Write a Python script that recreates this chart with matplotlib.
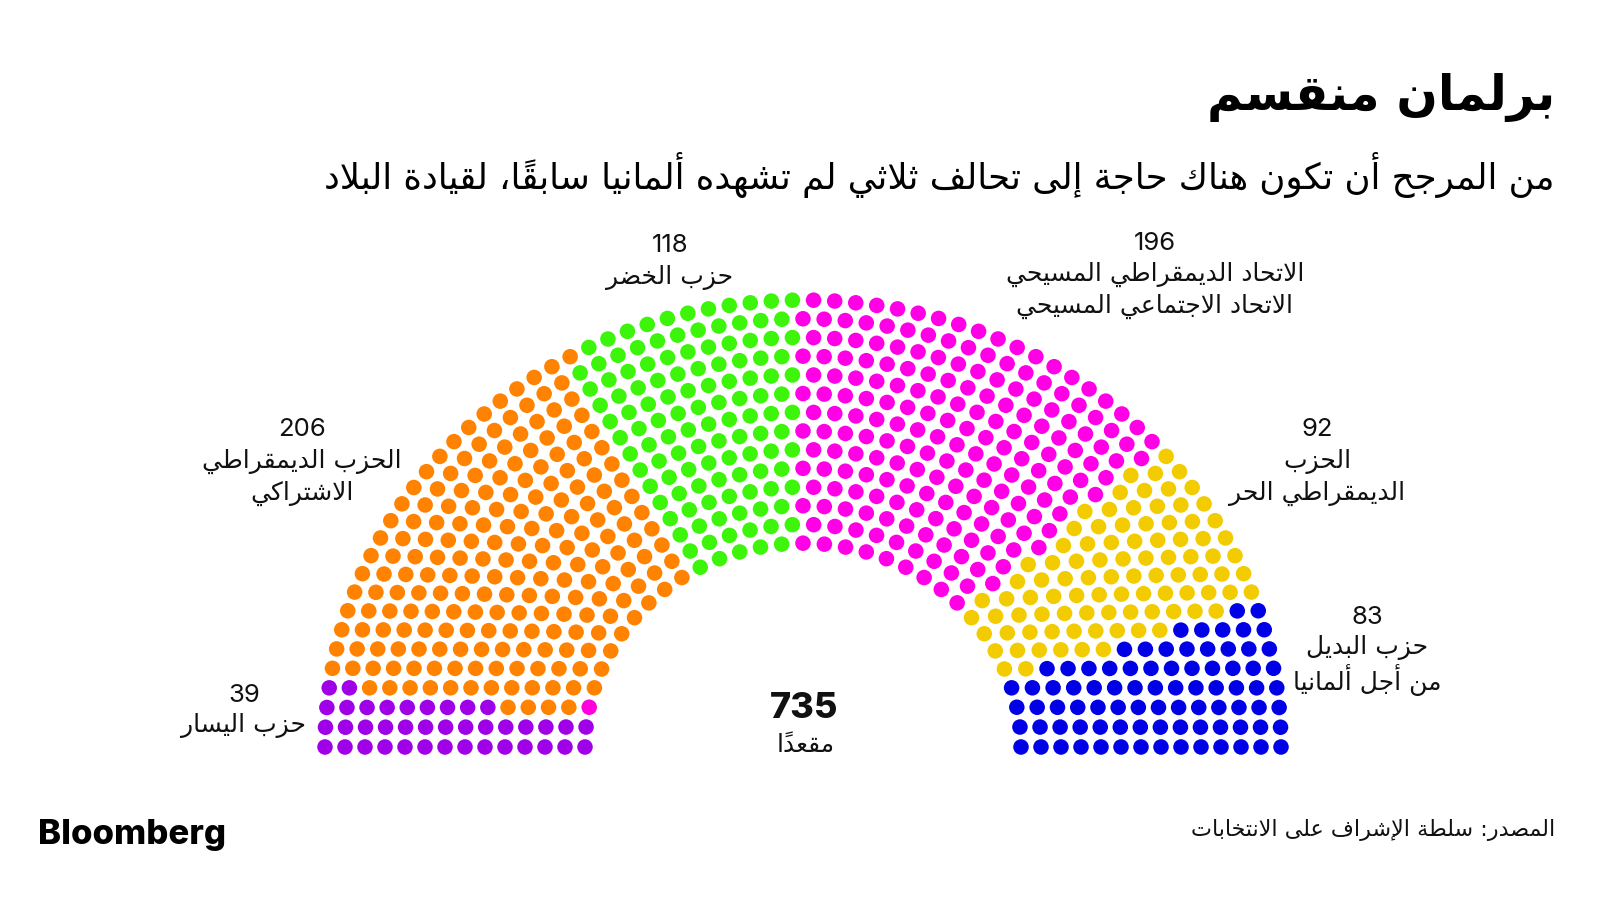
import numpy as np
import matplotlib
matplotlib.use("Agg")
import matplotlib.pyplot as plt

# parties from left to right
parties = ["حزب اليسار", "الحزب الديمقراطي الاشتراكي", "حزب الخضر",
           "الاتحاد الديمقراطي المسيحي", "الحزب الديمقراطي الحر", "حزب البديل من أجل ألمانيا"]
seats = [39, 206, 118, 196, 92, 83]
colors = ["#a000e8", "#ff8200", "#3cf50a", "#ff00e6", "#f2cc00", "#0000e6"]
# one extra seat (SSW) that sits on the innermost ring, third from the left
extra_seats = 1
extra_color = "#ff00dd"
extra_ring, extra_pos = 0, 2

label_numbers = ["39", "206", "118", "196", "92", "83"]
label_lines = [["حزب اليسار"],
               ["الحزب الديمقراطي", "الاشتراكي"],
               ["حزب الخضر"],
               ["الاتحاد الديمقراطي المسيحي", "الاتحاد الاجتماعي المسيحي"],
               ["الحزب", "الديمقراطي الحر"],
               ["حزب البديل", "من أجل ألمانيا"]]

title = "برلمان منقسم"
subtitle = "من المرجح أن تكون هناك حاجة إلى تحالف ثلاثي لم تشهده ألمانيا سابقاً، لقيادة البلاد"
source = "المصدر: سلطة الإشراف على الانتخابات"
total_word = "مقعداً"

# ---- tiny arabic shaper (matplotlib has no text shaping) ----
LETTERS = "ءآأؤإئابةتثجحخدذرزسشصضطظعغفقكلمنهوىي"
DUAL = set("ئبتثجحخسشصضطظعغفقكلمنهي")
FORMS = {}
code = 0xFE80
for ch in LETTERS:
    n = 1 if ch == "ء" else (4 if ch in DUAL else 2)
    FORMS[ch] = [chr(code + k) for k in range(n)]
    code += n
LAM_ALEF = {"آ": ["\uFEF5", "\uFEF6"], "أ": ["\uFEF7", "\uFEF8"],
            "إ": ["\uFEF9", "\uFEFA"], "ا": ["\uFEFB", "\uFEFC"]}


def is_mark(c):
    return 0x064B <= ord(c) <= 0x0652


def shape(line):
    toks = []
    i = 0
    while i < len(line):
        c = line[i]
        if c == "ل" and i + 1 < len(line) and line[i + 1] in LAM_ALEF:
            toks.append("ل" + line[i + 1])
            i += 2
        else:
            toks.append(c)
            i += 1
    # clusters: base + marks
    clusters = []
    for t in toks:
        if len(t) == 1 and is_mark(t) and clusters:
            clusters[-1][1] += t
        else:
            clusters.append([t, ""])
    out = []
    for k, (t, marks) in enumerate(clusters):
        prev = clusters[k - 1][0] if k > 0 else ""
        nxt = clusters[k + 1][0] if k + 1 < len(clusters) else ""
        jp = prev in DUAL and (t in FORMS and t != "ء" or len(t) == 2)
        jn = t in DUAL and (nxt in FORMS and nxt != "ء" or len(nxt) == 2)
        if len(t) == 2:
            g = LAM_ALEF[t[1]][1 if jp else 0]
        elif t in FORMS:
            f = FORMS[t]
            if jp and jn:
                g = f[3]
            elif jp:
                g = f[1]
            elif jn:
                g = f[2]
            else:
                g = f[0]
        else:
            g = t
        out.append(g + marks)
    return "".join(out[::-1])


AR = "DejaVu Sans"
NUM = "Inter"

fig = plt.figure(figsize=(16, 9), dpi=100)
ax = fig.add_axes([0, 0, 1, 1])
ax.set_xlim(0, 1600)
ax.set_ylim(900, 0)
ax.axis("off")

# ---- hemicycle ----
cx, cy = 803, 747
r_in, r_out = 218, 478
yscale = 0.935
rows = 14
total = sum(seats) + extra_seats
radii = np.linspace(r_in, r_out, rows)
raw = total * radii / radii.sum()
per_row = np.floor(raw).astype(int)
left = total - per_row.sum()
per_row[np.argsort(-(raw - per_row))[:left]] += 1

xs, ys, angs, special = [], [], [], []
for ri in range(rows):
    n = per_row[ri]
    for j in range(n):
        a = np.pi * j / (n - 1)
        xs.append(cx - radii[ri] * np.cos(a))
        ys.append(cy - radii[ri] * np.sin(a) * yscale)
        angs.append(a + ri * 1e-9)
        special.append(ri == extra_ring and j == extra_pos)
xs = np.array(xs); ys = np.array(ys)
order = np.argsort(angs)
seat_col = [None] * total
party_list = []
for p, s in enumerate(seats):
    party_list += [colors[p]] * s
k = 0
for idx in order:
    if special[idx]:
        seat_col[idx] = extra_color
    else:
        seat_col[idx] = party_list[k]
        k += 1
ax.scatter(xs, ys, s=125, c=seat_col, linewidths=0)

# ---- labels ----
label_pos = [(244, 695), (302, 430), (670, 246), (1155, 243), (1317, 430), (1367, 617)]
for (x, y), num, lines in zip(label_pos, label_numbers, label_lines):
    ax.text(x, y, num, fontsize=18.5, family=NUM, ha="center", va="center", color="#111111")
    for li, ln in enumerate(lines):
        ax.text(x, y + 31 + li * 32, shape(ln), fontsize=18, family=AR,
                ha="center", va="center", color="#111111")

ax.text(804, 709, str(total), fontsize=26, family=NUM, weight=800,
        ha="center", va="center", color="#111111")
ax.text(806, 745, shape(total_word), fontsize=18, family=AR,
        ha="center", va="center", color="#111111")

# ---- titles ----
ax.text(1555, 97, shape(title), fontsize=35, family=AR, weight="bold",
        ha="right", va="center", color="black")
ax.text(1555, 175, shape(subtitle), fontsize=25.6, family=AR,
        ha="right", va="center", color="black")
ax.text(1555, 830, shape(source), fontsize=16, family=AR,
        ha="right", va="center", color="#111111")
ax.text(38, 835, "Bloomberg", fontsize=25, family=NUM, weight=800,
        ha="left", va="center", color="black")

fig.savefig("out.png", dpi=100, facecolor="white")
